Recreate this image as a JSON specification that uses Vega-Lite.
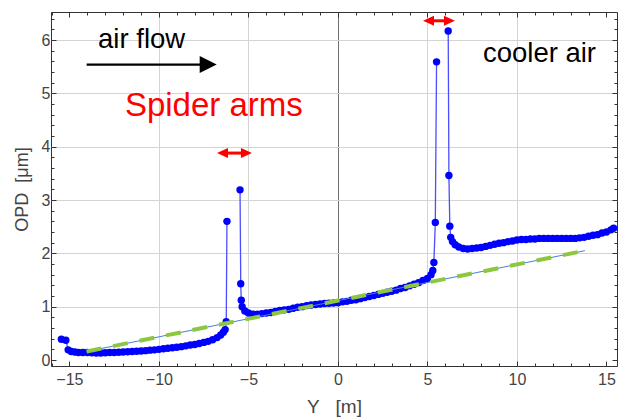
{
  "$schema": "https://vega.github.io/schema/vega-lite/v6.json",
  "autosize": "none",
  "width": 566,
  "height": 354,
  "padding": {"left": 51, "top": 12, "right": 3, "bottom": 53},
  "background": "white",
  "config": {
    "font": "Liberation Sans",
    "view": {"stroke": "#333333", "strokeWidth": 1},
    "axis": {"domain": false, "tickColor": "#333333", "tickWidth": 1, "labelFont": "Liberation Sans", "titleFont": "Liberation Sans", "titleFontWeight": "normal"}
  },
  "datasets": {
    "main": [
      {"Y": -15.45, "OPD": 0.39, "seg": "A"}, {"Y": -15.2, "OPD": 0.37, "seg": "A"}, {"Y": -15.07, "OPD": 0.19, "seg": "A"},
      {"Y": -14.9, "OPD": 0.16, "seg": "A"}, {"Y": -14.7, "OPD": 0.15, "seg": "A"}, {"Y": -14.5, "OPD": 0.14, "seg": "A"},
      {"Y": -14.25, "OPD": 0.14, "seg": "A"}, {"Y": -14.0, "OPD": 0.14, "seg": "A"}, {"Y": -13.75, "OPD": 0.135, "seg": "A"},
      {"Y": -13.5, "OPD": 0.13, "seg": "A"}, {"Y": -13.25, "OPD": 0.13, "seg": "A"}, {"Y": -13.0, "OPD": 0.135, "seg": "A"},
      {"Y": -12.75, "OPD": 0.14, "seg": "A"}, {"Y": -12.5, "OPD": 0.14, "seg": "A"}, {"Y": -12.25, "OPD": 0.145, "seg": "A"},
      {"Y": -12.0, "OPD": 0.15, "seg": "A"}, {"Y": -11.75, "OPD": 0.155, "seg": "A"}, {"Y": -11.5, "OPD": 0.16, "seg": "A"},
      {"Y": -11.25, "OPD": 0.165, "seg": "A"}, {"Y": -11.0, "OPD": 0.17, "seg": "A"}, {"Y": -10.75, "OPD": 0.175, "seg": "A"},
      {"Y": -10.5, "OPD": 0.185, "seg": "A"}, {"Y": -10.25, "OPD": 0.19, "seg": "A"}, {"Y": -10.0, "OPD": 0.2, "seg": "A"},
      {"Y": -9.75, "OPD": 0.21, "seg": "A"}, {"Y": -9.5, "OPD": 0.22, "seg": "A"}, {"Y": -9.25, "OPD": 0.23, "seg": "A"},
      {"Y": -9.0, "OPD": 0.24, "seg": "A"}, {"Y": -8.75, "OPD": 0.25, "seg": "A"}, {"Y": -8.5, "OPD": 0.265, "seg": "A"},
      {"Y": -8.25, "OPD": 0.28, "seg": "A"}, {"Y": -8.0, "OPD": 0.29, "seg": "A"}, {"Y": -7.75, "OPD": 0.31, "seg": "A"},
      {"Y": -7.5, "OPD": 0.33, "seg": "A"}, {"Y": -7.25, "OPD": 0.35, "seg": "A"}, {"Y": -7.0, "OPD": 0.38, "seg": "A"},
      {"Y": -6.75, "OPD": 0.42, "seg": "A"}, {"Y": -6.55, "OPD": 0.47, "seg": "A"}, {"Y": -6.4, "OPD": 0.52, "seg": "A"},
      {"Y": -6.3, "OPD": 0.57, "seg": "A"}, {"Y": -6.24, "OPD": 0.72, "seg": "A"}, {"Y": -6.2, "OPD": 2.6, "seg": "A"},
      {"Y": -5.47, "OPD": 3.19, "seg": "B"}, {"Y": -5.43, "OPD": 1.43, "seg": "B"}, {"Y": -5.4, "OPD": 1.12, "seg": "B"},
      {"Y": -5.35, "OPD": 1.0, "seg": "B"}, {"Y": -5.2, "OPD": 0.92, "seg": "B"}, {"Y": -5.0, "OPD": 0.88, "seg": "B"},
      {"Y": -4.75, "OPD": 0.86, "seg": "B"}, {"Y": -4.5, "OPD": 0.86, "seg": "B"}, {"Y": -4.25, "OPD": 0.87, "seg": "B"},
      {"Y": -4.0, "OPD": 0.88, "seg": "B"}, {"Y": -3.75, "OPD": 0.89, "seg": "B"}, {"Y": -3.5, "OPD": 0.91, "seg": "B"},
      {"Y": -3.25, "OPD": 0.93, "seg": "B"}, {"Y": -3.0, "OPD": 0.94, "seg": "B"}, {"Y": -2.75, "OPD": 0.95, "seg": "B"},
      {"Y": -2.5, "OPD": 0.97, "seg": "B"}, {"Y": -2.25, "OPD": 0.99, "seg": "B"}, {"Y": -2.0, "OPD": 1.0, "seg": "B"},
      {"Y": -1.75, "OPD": 1.02, "seg": "B"}, {"Y": -1.5, "OPD": 1.03, "seg": "B"}, {"Y": -1.25, "OPD": 1.04, "seg": "B"},
      {"Y": -1.0, "OPD": 1.05, "seg": "B"}, {"Y": -0.75, "OPD": 1.06, "seg": "B"}, {"Y": -0.5, "OPD": 1.065, "seg": "B"},
      {"Y": -0.25, "OPD": 1.07, "seg": "B"}, {"Y": 0.0, "OPD": 1.075, "seg": "B"}, {"Y": 0.25, "OPD": 1.09, "seg": "B"},
      {"Y": 0.5, "OPD": 1.1, "seg": "B"}, {"Y": 0.75, "OPD": 1.12, "seg": "B"}, {"Y": 1.0, "OPD": 1.13, "seg": "B"},
      {"Y": 1.25, "OPD": 1.15, "seg": "B"}, {"Y": 1.5, "OPD": 1.17, "seg": "B"}, {"Y": 1.75, "OPD": 1.19, "seg": "B"},
      {"Y": 2.0, "OPD": 1.21, "seg": "B"}, {"Y": 2.25, "OPD": 1.23, "seg": "B"}, {"Y": 2.5, "OPD": 1.25, "seg": "B"},
      {"Y": 2.75, "OPD": 1.27, "seg": "B"}, {"Y": 3.0, "OPD": 1.29, "seg": "B"}, {"Y": 3.25, "OPD": 1.31, "seg": "B"},
      {"Y": 3.5, "OPD": 1.34, "seg": "B"}, {"Y": 3.75, "OPD": 1.36, "seg": "B"}, {"Y": 4.0, "OPD": 1.39, "seg": "B"},
      {"Y": 4.25, "OPD": 1.42, "seg": "B"}, {"Y": 4.5, "OPD": 1.45, "seg": "B"}, {"Y": 4.75, "OPD": 1.49, "seg": "B"},
      {"Y": 5.0, "OPD": 1.53, "seg": "B"}, {"Y": 5.2, "OPD": 1.6, "seg": "B"}, {"Y": 5.3, "OPD": 1.68, "seg": "B"},
      {"Y": 5.36, "OPD": 1.83, "seg": "B"}, {"Y": 5.44, "OPD": 2.58, "seg": "B"}, {"Y": 5.51, "OPD": 5.59, "seg": "B"},
      {"Y": 6.16, "OPD": 6.17, "seg": "C"}, {"Y": 6.2, "OPD": 3.46, "seg": "C"}, {"Y": 6.25, "OPD": 2.51, "seg": "C"},
      {"Y": 6.3, "OPD": 2.3, "seg": "C"}, {"Y": 6.4, "OPD": 2.22, "seg": "C"}, {"Y": 6.55, "OPD": 2.16, "seg": "C"},
      {"Y": 6.75, "OPD": 2.12, "seg": "C"}, {"Y": 7.0, "OPD": 2.09, "seg": "C"}, {"Y": 7.25, "OPD": 2.08, "seg": "C"},
      {"Y": 7.5, "OPD": 2.09, "seg": "C"}, {"Y": 7.75, "OPD": 2.1, "seg": "C"}, {"Y": 8.0, "OPD": 2.11, "seg": "C"},
      {"Y": 8.25, "OPD": 2.13, "seg": "C"}, {"Y": 8.5, "OPD": 2.15, "seg": "C"}, {"Y": 8.75, "OPD": 2.17, "seg": "C"},
      {"Y": 9.0, "OPD": 2.19, "seg": "C"}, {"Y": 9.25, "OPD": 2.2, "seg": "C"}, {"Y": 9.5, "OPD": 2.22, "seg": "C"},
      {"Y": 9.75, "OPD": 2.23, "seg": "C"}, {"Y": 10.0, "OPD": 2.25, "seg": "C"}, {"Y": 10.25, "OPD": 2.26, "seg": "C"},
      {"Y": 10.5, "OPD": 2.26, "seg": "C"}, {"Y": 10.75, "OPD": 2.27, "seg": "C"}, {"Y": 11.0, "OPD": 2.27, "seg": "C"},
      {"Y": 11.25, "OPD": 2.28, "seg": "C"}, {"Y": 11.5, "OPD": 2.28, "seg": "C"}, {"Y": 11.75, "OPD": 2.28, "seg": "C"},
      {"Y": 12.0, "OPD": 2.28, "seg": "C"}, {"Y": 12.25, "OPD": 2.28, "seg": "C"}, {"Y": 12.5, "OPD": 2.28, "seg": "C"},
      {"Y": 12.75, "OPD": 2.28, "seg": "C"}, {"Y": 13.0, "OPD": 2.28, "seg": "C"}, {"Y": 13.25, "OPD": 2.28, "seg": "C"},
      {"Y": 13.5, "OPD": 2.29, "seg": "C"}, {"Y": 13.75, "OPD": 2.3, "seg": "C"}, {"Y": 14.0, "OPD": 2.32, "seg": "C"},
      {"Y": 14.25, "OPD": 2.34, "seg": "C"}, {"Y": 14.5, "OPD": 2.35, "seg": "C"}, {"Y": 14.75, "OPD": 2.38, "seg": "C"},
      {"Y": 15.0, "OPD": 2.4, "seg": "C"}, {"Y": 15.25, "OPD": 2.44, "seg": "C"}, {"Y": 15.4, "OPD": 2.47, "seg": "C"}
    ],
    "fit": [
      {"Y": -14.04, "OPD": 0.16},
      {"Y": 13.8, "OPD": 2.05}
    ]
  },
  "resolve": {"axis": {"x": "independent", "y": "independent"}},
  "layer": [
    {
      "data": {"name": "main"},
      "mark": {"type": "line", "color": "#4d4dff", "strokeWidth": 1.3},
      "encoding": {
        "x": {"field": "Y", "type": "quantitative", "scale": {"domain": [-16.03, 15.59], "nice": false, "zero": false},
          "axis": {"orient": "bottom", "values": [-15, -10, -5, 0, 5, 10, 15], "format": "d", "tickSize": -5,
            "grid": true, "gridColor": {"condition": {"test": "datum.value === 0", "value": "#707070"}, "value": "#d4d4d4"},
            "gridOpacity": {"condition": {"test": "abs(datum.value) === 15", "value": 0}, "value": 1},
            "labelFontSize": 16, "labelColor": "#444444", "labelPadding": 10,
            "title": "Y\u00a0\u00a0\u00a0[m]", "titleFontSize": 19, "titleColor": "#444444", "titlePadding": 10}},
        "y": {"field": "OPD", "type": "quantitative", "scale": {"domain": [-0.1125, 6.525], "nice": false, "zero": false},
          "axis": {"orient": "left", "values": [0, 1, 2, 3, 4, 5, 6], "format": "d", "tickSize": -5,
            "grid": true, "gridColor": "#d4d4d4",
            "gridOpacity": {"condition": {"test": "datum.value === 0", "value": 0}, "value": 1},
            "labelFontSize": 16, "labelColor": "#444444", "labelPadding": 6,
            "title": "OPD\u00a0\u00a0[μm]", "titleFontSize": 18, "titleColor": "#444444", "titlePadding": 10}},
        "detail": {"field": "seg"}
      }
    },
    {
      "data": {"name": "main"},
      "mark": {"type": "point", "shape": "circle", "filled": true, "size": 55, "color": "#0000ff", "opacity": 1},
      "encoding": {
        "x": {"field": "Y", "type": "quantitative", "scale": {"domain": [-16.03, 15.59], "nice": false, "zero": false},
          "axis": {"orient": "top", "values": [-15, -10, -5, 0, 5, 10, 15], "labels": false, "grid": false, "tickSize": -5, "title": null}},
        "y": {"field": "OPD", "type": "quantitative", "scale": {"domain": [-0.1125, 6.525], "nice": false, "zero": false},
          "axis": {"orient": "right", "values": [0, 1, 2, 3, 4, 5, 6], "labels": false, "grid": false, "tickSize": -5, "title": null}}
      }
    },
    {
      "data": {"name": "fit"},
      "mark": {"type": "line", "color": "#4a7fd6", "strokeWidth": 1},
      "encoding": {
        "x": {"field": "Y", "type": "quantitative", "scale": {"domain": [-16.03, 15.59], "nice": false, "zero": false},
          "axis": {"orient": "bottom", "values": [-16, -15, -14, -13, -12, -11, -10, -9, -8, -7, -6, -5, -4, -3, -2, -1, 0, 1, 2, 3, 4, 5, 6, 7, 8, 9, 10, 11, 12, 13, 14, 15], "labels": false, "grid": false, "tickSize": -3, "title": null}},
        "y": {"field": "OPD", "type": "quantitative", "scale": {"domain": [-0.1125, 6.525], "nice": false, "zero": false},
          "axis": {"orient": "left", "values": [0, 0.2, 0.4, 0.6, 0.8, 1, 1.2, 1.4, 1.6, 1.8, 2, 2.2, 2.4, 2.6, 2.8, 3, 3.2, 3.4, 3.6, 3.8, 4, 4.2, 4.4, 4.6, 4.8, 5, 5.2, 5.4, 5.6, 5.8, 6, 6.2, 6.4], "labels": false, "grid": false, "tickSize": -3, "title": null}}
      }
    },
    {
      "data": {"name": "fit"},
      "mark": {"type": "line", "color": "#8dc63f", "strokeWidth": 4, "strokeDash": [15, 12]},
      "encoding": {
        "x": {"field": "Y", "type": "quantitative", "scale": {"domain": [-16.03, 15.59], "nice": false, "zero": false},
          "axis": {"orient": "top", "values": [-16, -15, -14, -13, -12, -11, -10, -9, -8, -7, -6, -5, -4, -3, -2, -1, 0, 1, 2, 3, 4, 5, 6, 7, 8, 9, 10, 11, 12, 13, 14, 15], "labels": false, "grid": false, "tickSize": -3, "title": null}},
        "y": {"field": "OPD", "type": "quantitative", "scale": {"domain": [-0.1125, 6.525], "nice": false, "zero": false},
          "axis": {"orient": "right", "values": [0, 0.2, 0.4, 0.6, 0.8, 1, 1.2, 1.4, 1.6, 1.8, 2, 2.2, 2.4, 2.6, 2.8, 3, 3.2, 3.4, 3.6, 3.8, 4, 4.2, 4.4, 4.6, 4.8, 5, 5.2, 5.4, 5.6, 5.8, 6, 6.2, 6.4], "labels": false, "grid": false, "tickSize": -3, "title": null}}
      }
    },
    {
      "data": {"values": [{"x": -13.4, "y": 5.85, "label": "air flow"}, {"x": 8.1, "y": 5.59, "label": "cooler air"}]},
      "mark": {"type": "text", "align": "left", "baseline": "alphabetic", "fontSize": 27.5, "color": "#000000", "font": "Liberation Sans"},
      "encoding": {
        "x": {"field": "x", "type": "quantitative", "axis": null},
        "y": {"field": "y", "type": "quantitative", "axis": null},
        "text": {"field": "label"}
      }
    },
    {
      "data": {"values": [{"x": -11.9, "y": 4.575, "label": "Spider arms"}]},
      "mark": {"type": "text", "align": "left", "baseline": "alphabetic", "fontSize": 33, "color": "#ff0000", "font": "Liberation Sans"},
      "encoding": {
        "x": {"field": "x", "type": "quantitative", "axis": null},
        "y": {"field": "y", "type": "quantitative", "axis": null},
        "text": {"field": "label"}
      }
    },
    {
      "data": {"values": [{"x1": -14.04, "x2": -7.4, "y": 5.54}]},
      "mark": {"type": "rule", "color": "#000000", "strokeWidth": 2.2},
      "encoding": {
        "x": {"field": "x1", "type": "quantitative", "axis": null},
        "x2": {"field": "x2"},
        "y": {"field": "y", "type": "quantitative", "axis": null}
      }
    },
    {
      "data": {"values": [{"x": -7.25, "y": 5.54}]},
      "mark": {"type": "point", "shape": "M-1,-1L1,0L-1,1Z", "filled": true, "size": 289, "color": "#000000", "opacity": 1},
      "encoding": {
        "x": {"field": "x", "type": "quantitative", "axis": null},
        "y": {"field": "y", "type": "quantitative", "axis": null}
      }
    },
    {
      "data": {"values": [{"x1": -6.45, "x2": -5.11, "y": 3.88}, {"x1": 5.06, "x2": 6.23, "y": 6.36}]},
      "mark": {"type": "rule", "color": "#ff0000", "strokeWidth": 3},
      "encoding": {
        "x": {"field": "x1", "type": "quantitative", "axis": null},
        "x2": {"field": "x2"},
        "y": {"field": "y", "type": "quantitative", "axis": null}
      }
    },
    {
      "data": {"values": [{"x": -6.45, "y": 3.88}, {"x": 5.06, "y": 6.36}]},
      "mark": {"type": "point", "shape": "M1,-0.9L-1,0L1,0.9Z", "filled": true, "size": 121, "color": "#ff0000", "opacity": 1},
      "encoding": {
        "x": {"field": "x", "type": "quantitative", "axis": null},
        "y": {"field": "y", "type": "quantitative", "axis": null}
      }
    },
    {
      "data": {"values": [{"x": -5.11, "y": 3.88}, {"x": 6.23, "y": 6.36}]},
      "mark": {"type": "point", "shape": "M-1,-0.9L1,0L-1,0.9Z", "filled": true, "size": 121, "color": "#ff0000", "opacity": 1},
      "encoding": {
        "x": {"field": "x", "type": "quantitative", "axis": null},
        "y": {"field": "y", "type": "quantitative", "axis": null}
      }
    }
  ]
}
